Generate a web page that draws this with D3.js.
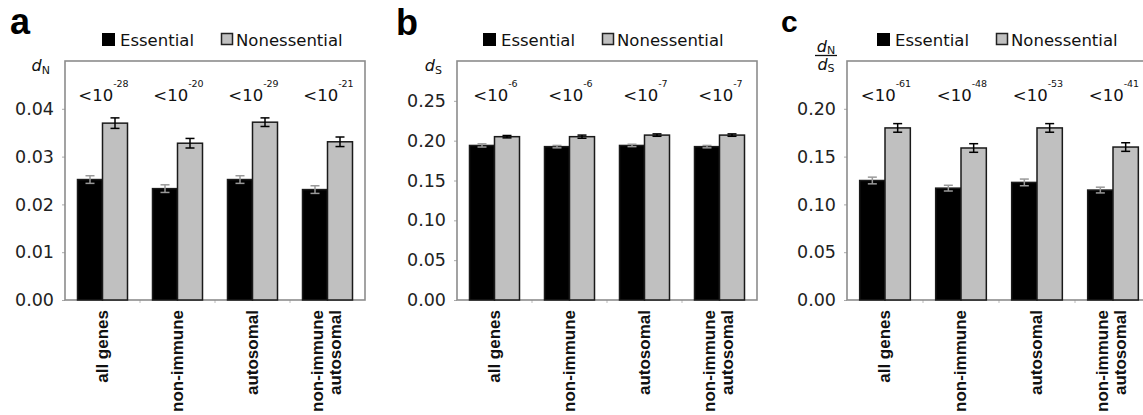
<!DOCTYPE html>
<html>
<head>
<meta charset="utf-8">
<script src="https://cdn.jsdelivr.net/npm/d3@7"></script>
<style>
  html, body { margin: 0; padding: 0; background: #fff; }
  svg { display: block; }
</style>
</head>
<body>
<svg id="chart" width="1143" height="415"></svg>
<script>
// ---- data ----
const categoryLines = [["all genes"], ["non-immune"], ["autosomal"], ["non-immune", "autosomal"]];
const seriesNames = ["Essential", "Nonessential"];

const dN_essential = [0.0252, 0.0233, 0.0252, 0.0231];
const dN_essential_err = [0.0008, 0.0008, 0.0008, 0.0008];
const dN_nonessential = [0.0370, 0.0328, 0.0372, 0.0331];
const dN_nonessential_err = [0.0011, 0.0010, 0.0009, 0.0010];
const dN_pExponents = ["-28", "-20", "-29", "-21"];
const dN_ticks = [0, 0.01, 0.02, 0.03, 0.04];

const dS_essential = [0.194, 0.1925, 0.194, 0.1925];
const dS_essential_err = [0.002, 0.0015, 0.0015, 0.0015];
const dS_nonessential = [0.205, 0.205, 0.207, 0.207];
const dS_nonessential_err = [0.0015, 0.002, 0.0015, 0.0015];
const dS_pExponents = ["-6", "-6", "-7", "-7"];
const dS_ticks = [0, 0.05, 0.10, 0.15, 0.20, 0.25];

const ratio_essential = [0.125, 0.117, 0.123, 0.115];
const ratio_essential_err = [0.0035, 0.003, 0.0035, 0.003];
const ratio_nonessential = [0.180, 0.159, 0.180, 0.160];
const ratio_nonessential_err = [0.0045, 0.0045, 0.0045, 0.0045];
const ratio_pExponents = ["-61", "-48", "-53", "-41"];
const ratio_ticks = [0, 0.05, 0.10, 0.15, 0.20];

// ---- layout ----
const panels = [
  { letter: "a", letterSize: 36, letterX: 10, letterY: 34, left: 65, width: 300, yMax: 0.05,
    ess: dN_essential, essErr: dN_essential_err, non: dN_nonessential, nonErr: dN_nonessential_err,
    pExp: dN_pExponents, ticks: dN_ticks, legendX: 102, ylab: { type: "sub", sub: "N" } },
  { letter: "b", letterSize: 36, letterX: 396, letterY: 35, left: 457, width: 300, yMax: 0.30,
    ess: dS_essential, essErr: dS_essential_err, non: dS_nonessential, nonErr: dS_nonessential_err,
    pExp: dS_pExponents, ticks: dS_ticks, legendX: 483, ylab: { type: "sub", sub: "S" } },
  { letter: "c", letterSize: 30, letterX: 781, letterY: 32, left: 847, width: 304, yMax: 0.25,
    ess: ratio_essential, essErr: ratio_essential_err, non: ratio_nonessential, nonErr: ratio_nonessential_err,
    pExp: ratio_pExponents, ticks: ratio_ticks, legendX: 877, ylab: { type: "frac" } }
];
const plotTop = 61, plotBottom = 300;
const frameColor = "#8c8c8c";
const grayFill = "#c0c0c0";
const textFont = "DejaVu Sans, Verdana, sans-serif";
const labelFont = "Liberation Sans, Arial, sans-serif";

const svg = d3.select("#chart");

panels.forEach(p => {
  const g = svg.append("g");
  const x = d3.scaleBand().domain(d3.range(categoryLines.length))
    .range([p.left, p.left + p.width]).paddingInner(1 / 3).paddingOuter(1 / 6);
  const xs = d3.scaleBand().domain(seriesNames).range([0, x.bandwidth()]);
  const y = d3.scaleLinear().domain([0, p.yMax]).range([plotBottom, plotTop]);

  // panel letter
  g.append("text").attr("x", p.letterX).attr("y", p.letterY)
    .attr("font-family", labelFont).attr("font-weight", "bold")
    .attr("font-size", p.letterSize).attr("fill", "#000").text(p.letter);

  // legend
  const lg = g.append("g").attr("transform", `translate(${p.legendX},33)`);
  lg.append("rect").attr("x", 0.5).attr("y", 0.5).attr("width", 12).attr("height", 12)
    .attr("fill", "#000").attr("stroke", "#000");
  lg.append("text").attr("x", 18).attr("y", 12.5).attr("font-family", textFont)
    .attr("font-size", 16.5).attr("fill", "#111").text(seriesNames[0]);
  lg.append("rect").attr("x", 119.5).attr("y", 0.5).attr("width", 11).attr("height", 11)
    .attr("fill", grayFill).attr("stroke", "#222").attr("stroke-width", 1.5);
  lg.append("text").attr("x", 134).attr("y", 12.5).attr("font-family", textFont)
    .attr("font-size", 16.5).attr("fill", "#111").text(seriesNames[1]);

  // y axis ticks and labels
  const yAxis = d3.axisLeft(y).tickValues(p.ticks).tickFormat(d3.format(".2f"))
    .tickSize(3).tickPadding(8);
  const ya = g.append("g").attr("transform", `translate(${p.left},0)`).call(yAxis);
  ya.select(".domain").remove();
  ya.selectAll(".tick line").attr("stroke", "#aaa");
  ya.selectAll(".tick text").attr("font-family", textFont).attr("font-size", 17.5).attr("fill", "#222");

  // small separators along the category axis
  const sepTicks = d3.range(1, categoryLines.length).map(i => p.left + i * x.step());
  g.selectAll(".sep").data(sepTicks).join("line")
    .attr("x1", d => d).attr("x2", d => d).attr("y1", plotBottom).attr("y2", plotBottom + 3)
    .attr("stroke", "#bbb").attr("stroke-width", 1);

  // frame
  g.append("rect").attr("x", p.left).attr("y", plotTop).attr("width", p.width).attr("height", plotBottom - plotTop)
    .attr("fill", "none").attr("stroke", frameColor).attr("stroke-width", 1.6);

  // bars
  const rows = categoryLines.map((c, i) => [
    { i, s: seriesNames[0], v: p.ess[i], e: p.essErr[i], fill: "#000", err: "#999" },
    { i, s: seriesNames[1], v: p.non[i], e: p.nonErr[i], fill: grayFill, err: "#000" }
  ]).flat();

  g.selectAll(".bar").data(rows).join("rect")
    .attr("x", d => x(d.i) + xs(d.s))
    .attr("y", d => y(d.v))
    .attr("width", xs.bandwidth())
    .attr("height", d => plotBottom - y(d.v))
    .attr("fill", d => d.fill)
    .attr("stroke", "#1a1a1a").attr("stroke-width", 1.5);

  // error bars
  const eb = g.selectAll(".err").data(rows).join("g")
    .attr("stroke", d => d.err).attr("stroke-width", 1.5);
  const cx = d => x(d.i) + xs(d.s) + xs.bandwidth() / 2;
  eb.append("line").attr("x1", cx).attr("x2", cx)
    .attr("y1", d => y(d.v + d.e)).attr("y2", d => y(d.v - d.e));
  eb.append("line").attr("x1", d => cx(d) - 4.5).attr("x2", d => cx(d) + 4.5)
    .attr("y1", d => y(d.v + d.e)).attr("y2", d => y(d.v + d.e));
  eb.append("line").attr("x1", d => cx(d) - 4.5).attr("x2", d => cx(d) + 4.5)
    .attr("y1", d => y(d.v - d.e)).attr("y2", d => y(d.v - d.e));

  // significance labels
  const pt = g.selectAll(".pval").data(p.pExp).join("text")
    .attr("x", (d, i) => x(i) + x.bandwidth() / 2 + 1)
    .attr("y", 101)
    .attr("text-anchor", "middle")
    .attr("font-family", textFont).attr("fill", "#111");
  pt.append("tspan").attr("font-size", 16.5).text("<10");
  pt.append("tspan").attr("font-size", 9.5).attr("dy", -14).text(d => d);

  // category labels, rotated
  const cl = g.selectAll(".cat").data(categoryLines).join("text")
    .attr("transform", (d, i) => `translate(${x(i) + x.bandwidth() / 2},310) rotate(-90)`)
    .attr("text-anchor", "end")
    .attr("font-family", labelFont).attr("font-weight", "bold")
    .attr("font-size", 17).attr("fill", "#111");
  cl.each(function (lines) {
    const t = d3.select(this);
    if (lines.length === 1) {
      t.append("tspan").attr("x", 0).attr("y", 5).text(lines[0]);
    } else {
      t.append("tspan").attr("x", 0).attr("y", -5).text(lines[0]);
      t.append("tspan").attr("x", 0).attr("y", 13).text(lines[1]);
    }
  });

  // y-axis title
  if (p.ylab.type === "sub") {
    const t = g.append("text").attr("x", p.left - 15).attr("y", 71).attr("text-anchor", "end")
      .attr("font-family", textFont).attr("fill", "#111");
    t.append("tspan").attr("font-size", 16).attr("font-style", "italic").text("d");
    t.append("tspan").attr("font-size", 11).attr("dy", 3).text(p.ylab.sub);
  } else {
    const fx = p.left - 21;
    const t1 = g.append("text").attr("x", fx).attr("y", 52).attr("text-anchor", "middle")
      .attr("font-family", textFont).attr("fill", "#111");
    t1.append("tspan").attr("font-size", 16).attr("font-style", "italic").text("d");
    t1.append("tspan").attr("font-size", 11).attr("dy", 2).text("N");
    g.append("line").attr("x1", fx - 11).attr("x2", fx + 11).attr("y1", 55.5).attr("y2", 55.5)
      .attr("stroke", "#111").attr("stroke-width", 1.3);
    const t2 = g.append("text").attr("x", fx).attr("y", 70).attr("text-anchor", "middle")
      .attr("font-family", textFont).attr("fill", "#111");
    t2.append("tspan").attr("font-size", 16).attr("font-style", "italic").text("d");
    t2.append("tspan").attr("font-size", 11).attr("dy", 2).text("S");
  }
});
</script>
</body>
</html>
